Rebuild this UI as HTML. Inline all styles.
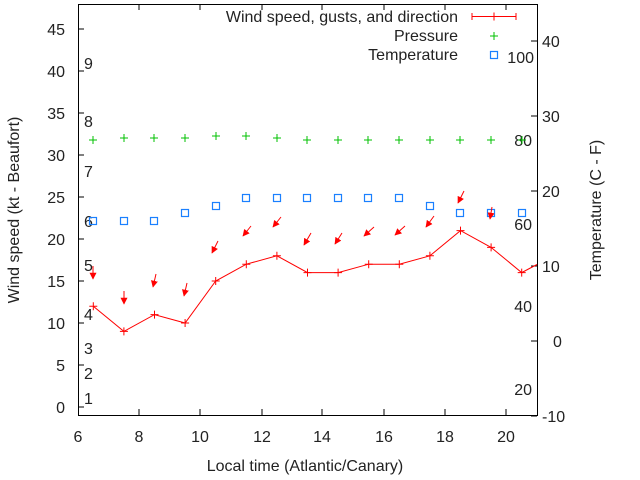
<!DOCTYPE html>
<html><head><meta charset="utf-8"><style>
html,body{margin:0;padding:0;background:#fff;}
svg{display:block;font-family:"Liberation Sans",sans-serif;}
text{font-size:16px;fill:#222;}
</style></head><body>
<svg width="640" height="480" viewBox="0 0 640 480">
<defs>
<marker id="ah" viewBox="0 0 10 10" refX="9" refY="5" markerWidth="7" markerHeight="7" markerUnits="userSpaceOnUse" orient="auto"><path d="M0,0L10,5L0,10z" fill="#f00"/></marker>
<g id="pp"><path d="M-4,0H4M0,-4V4" stroke="#00c000" stroke-width="1"/></g>
<g id="wp"><path d="M-4,0H4M0,-4V4" stroke="#f00" stroke-width="1"/></g>
<rect id="sq" x="-3.5" y="-3.5" width="7" height="7" fill="none" stroke="#1a80ff" stroke-width="1.2"/>
</defs>
<rect x="78.5" y="4.5" width="459" height="411" fill="none" stroke="#000"/>
<g stroke="#000">
<path d="M78,407h6M78,365h6M78,323h6M78,281h6M78,239h6M78,197h6M78,155h6M78,113h6M78,71h6M78,29h6"/>
<path d="M537,41h-6M537,116h-6M537,191h-6M537,266h-6M537,341h-6M537,416h-6"/>
<path d="M139,415v-6M200,415v-6M262,415v-6M322,415v-6M384,415v-6M445,415v-6M506,415v-6"/>
<path d="M139,4v6M200,4v6M262,4v6M322,4v6M384,4v6M445,4v6M506,4v6"/>
</g>
<g text-anchor="end">
<text x="65" y="413">0</text><text x="65" y="371">5</text><text x="65" y="329">10</text><text x="65" y="287">15</text><text x="65" y="245">20</text><text x="65" y="203">25</text><text x="65" y="161">30</text><text x="65" y="119">35</text><text x="65" y="77">40</text><text x="65" y="35">45</text>
</g>
<g text-anchor="start">
<text x="542" y="47">40</text><text x="542" y="122">30</text><text x="542" y="197">20</text><text x="542" y="272">10</text><text x="553" y="347">0</text><text x="542" y="422">-10</text>
</g>
<g text-anchor="middle">
<text x="78" y="442">6</text><text x="139" y="442">8</text><text x="200" y="442">10</text><text x="262" y="442">12</text><text x="322" y="442">14</text><text x="384" y="442">16</text><text x="445" y="442">18</text><text x="506" y="442">20</text>
<text x="305" y="471">Local time (Atlantic/Canary)</text>
</g>
<text transform="translate(19,210) rotate(-90)" text-anchor="middle">Wind speed (kt - Beaufort)</text>
<text transform="translate(601,210) rotate(-90)" text-anchor="middle">Temperature (C - F)</text>
<g>
<text x="84" y="404">1</text><text x="84" y="379">2</text><text x="84" y="354">3</text><text x="84" y="320">4</text><text x="84" y="271">5</text><text x="84" y="227">6</text><text x="84" y="177">7</text><text x="84" y="127">8</text><text x="84" y="69">9</text>
</g>
<g text-anchor="end">
<text x="534" y="63">100</text><text x="532" y="146">80</text><text x="532" y="230">60</text><text x="532" y="312">40</text><text x="532" y="395">20</text>
</g>
<!-- legend -->
<g text-anchor="end">
<text x="458" y="22">Wind speed, gusts, and direction</text>
<text x="458" y="41">Pressure</text>
<text x="458" y="60">Temperature</text>
</g>
<path d="M472,16.5H516M472,13v7M516,13v7" stroke="#f00"/>
<use href="#wp" x="494" y="16.5"/>
<use href="#pp" x="494" y="36"/>
<use href="#sq" x="494" y="55"/>
<!-- pressure -->
<g>
<use href="#pp" x="93" y="140"/><use href="#pp" x="124" y="138"/><use href="#pp" x="154" y="138"/><use href="#pp" x="185" y="138"/><use href="#pp" x="216" y="136"/><use href="#pp" x="246" y="136"/><use href="#pp" x="277" y="138"/><use href="#pp" x="307" y="140"/><use href="#pp" x="338" y="140"/><use href="#pp" x="368" y="140"/><use href="#pp" x="399" y="140"/><use href="#pp" x="430" y="140"/><use href="#pp" x="460" y="140"/><use href="#pp" x="491" y="140"/><use href="#pp" x="522" y="140"/>
</g>
<!-- temperature -->
<g>
<use href="#sq" x="93" y="221"/><use href="#sq" x="124" y="221"/><use href="#sq" x="154" y="221"/><use href="#sq" x="185" y="213"/><use href="#sq" x="216" y="206"/><use href="#sq" x="246" y="198"/><use href="#sq" x="277" y="198"/><use href="#sq" x="307" y="198"/><use href="#sq" x="338" y="198"/><use href="#sq" x="368" y="198"/><use href="#sq" x="399" y="198"/><use href="#sq" x="430" y="206"/><use href="#sq" x="460" y="213"/><use href="#sq" x="491" y="213"/><use href="#sq" x="522" y="213"/>
</g>
<!-- wind line -->
<polyline fill="none" stroke="#f00" stroke-width="1" points="93.3,306.2 123.9,331.4 154.5,314.6 185.1,323 215.7,281 246.3,264.2 276.9,255.8 307.5,272.6 338.1,272.6 368.7,264.2 399.3,264.2 429.9,255.8 460.5,230.6 491.1,247.4 521.7,272.6 537,264.5"/>
<g>
<use href="#wp" x="93.3" y="306.2"/><use href="#wp" x="123.9" y="331.4"/><use href="#wp" x="154.5" y="314.6"/><use href="#wp" x="185.1" y="323"/><use href="#wp" x="215.7" y="281"/><use href="#wp" x="246.3" y="264.2"/><use href="#wp" x="276.9" y="255.8"/><use href="#wp" x="307.5" y="272.6"/><use href="#wp" x="338.1" y="272.6"/><use href="#wp" x="368.7" y="264.2"/><use href="#wp" x="399.3" y="264.2"/><use href="#wp" x="429.9" y="255.8"/><use href="#wp" x="460.5" y="230.6"/><use href="#wp" x="491.1" y="247.4"/><use href="#wp" x="521.7" y="272.6"/>
</g>
<!-- arrows -->
<g stroke="#f00" stroke-width="1" marker-end="url(#ah)">
<line x1="93" y1="266" x2="93" y2="279"/>
<line x1="124" y1="291" x2="124" y2="304"/>
<line x1="156" y1="274" x2="153" y2="287"/>
<line x1="187" y1="283" x2="184" y2="296"/>
<line x1="218" y1="241" x2="212" y2="253"/>
<line x1="251" y1="226" x2="243" y2="236"/>
<line x1="281" y1="217" x2="273" y2="227"/>
<line x1="311" y1="233" x2="304" y2="245"/>
<line x1="342" y1="233" x2="335" y2="244"/>
<line x1="374" y1="227" x2="364" y2="236"/>
<line x1="405" y1="226" x2="395" y2="235"/>
<line x1="434" y1="216" x2="426" y2="227"/>
<line x1="464" y1="191" x2="458" y2="203"/>
<line x1="492" y1="207" x2="490" y2="219"/>
</g>
</svg>
</body></html>
